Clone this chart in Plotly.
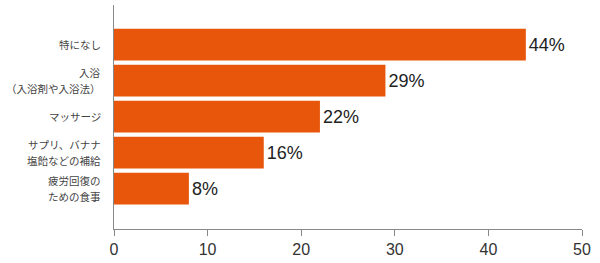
import plotly.graph_objects as go

categories = ["特になし", "入浴<br>（入浴剤や入浴法）", "マッサージ", "サプリ、バナナ<br>塩飴などの補給", "疲労回復の<br>ための食事"]
values = [44, 29, 22, 16, 8]
labels = [f"{v}%" for v in values]
xticks = [0, 10, 20, 30, 40, 50]

pos = list(range(len(categories)))

fig = go.Figure(go.Bar(
    x=values, y=pos, orientation="h",
    marker=dict(color="#E8560B", line=dict(width=0)),
    text=labels, textposition="outside", cliponaxis=False,
    textfont=dict(size=18, color="#222", family="Liberation Sans"),
    width=0.88,
))

# category labels as separate lines for precise line spacing
annots = []
for p, cat in zip(pos, categories):
    lines = cat.split("<br>")
    n = len(lines)
    for i, ln in enumerate(lines):
        shift = ((n - 1) / 2 - i) * 16
        annots.append(dict(
            x=0, xref="x", y=p, yref="y", text=ln, showarrow=False,
            xanchor="right", yanchor="middle", xshift=-11, yshift=shift,
            font=dict(size=10.5, color="#444", family="Noto Sans CJK JP"),
        ))

fig.update_layout(
    width=600, height=263,
    margin=dict(l=114, r=18, t=5, b=27),
    paper_bgcolor="white", plot_bgcolor="white",
    showlegend=False,
    annotations=annots,
    xaxis=dict(range=[0, 50], tickvals=xticks, showgrid=False, zeroline=False,
               showline=True, linecolor="#888", linewidth=1,
               ticks="outside", ticklen=6, tickcolor="#888",
               tickfont=dict(size=16, color="#333", family="Liberation Sans")),
    yaxis=dict(range=[5.12, -1.1], tickvals=pos, showticklabels=False,
               showgrid=False, zeroline=False, showline=True, linecolor="#888", linewidth=1,
               ticks=""),
)

fig.write_html("out.html")
